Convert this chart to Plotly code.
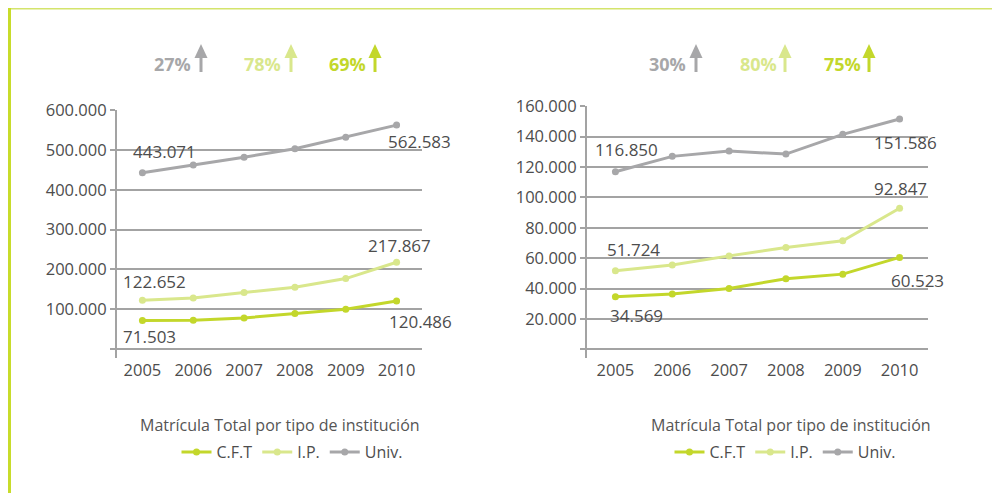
import plotly.graph_objects as go

# ---------------- data ----------------
years = ["2005", "2006", "2007", "2008", "2009", "2010"]
series_names = ["C.F.T", "I.P.", "Univ."]

left_cft = [71503, 72000, 78000, 89000, 100000, 120486]
left_ip = [122652, 128000, 142000, 155000, 177000, 217867]
left_univ = [443071, 462000, 482000, 503000, 532000, 562583]

right_cft = [34569, 36500, 40000, 46500, 49500, 60523]
right_ip = [51724, 55500, 61500, 67000, 71500, 92847]
right_univ = [116850, 127000, 130500, 128500, 141500, 151586]

left_growth = ["27%", "78%", "69%"]    # Univ., I.P., C.F.T
right_growth = ["30%", "80%", "75%"]   # Univ., I.P., C.F.T

left_yticks = [0, 100000, 200000, 300000, 400000, 500000, 600000]
right_yticks = [0, 20000, 40000, 60000, 80000, 100000, 120000, 140000, 160000]

chart_title = "Matrícula Total por tipo de institución"

# ---------------- style ----------------
W, H = 1000, 493
OFF = 8  # page body margin offset of the figure in the browser
C_CFT = "#C3D72B"
C_IP = "#D9E78C"
C_UNIV = "#A7A7A9"
colors = [C_CFT, C_IP, C_UNIV]
GRID = "#A3A3A3"
TXT = "#4D4D4D"
FONT = "Open Sans"


def px(x):
    return (x - OFF) / W


def py(y):
    return 1 - (y - OFF) / H


def fmt(v):
    return "" if v == 0 else f"{v:,}".replace(",", ".")


fig = go.Figure()

left_series = [left_cft, left_ip, left_univ]
right_series = [right_cft, right_ip, right_univ]

for name, vals, col in zip(series_names, left_series, colors):
    fig.add_trace(go.Scatter(
        x=years, y=vals, name=name, mode="lines+markers",
        line=dict(color=col, width=3), marker=dict(color=col, size=7),
        xaxis="x", yaxis="y", legend="legend", hoverinfo="skip"))

for name, vals, col in zip(series_names, right_series, colors):
    fig.add_trace(go.Scatter(
        x=years, y=vals, name=name, mode="lines+markers",
        line=dict(color=col, width=3), marker=dict(color=col, size=7),
        xaxis="x2", yaxis="y2", legend="legend2", hoverinfo="skip"))

yax_common = dict(
    showline=True, linecolor=GRID, linewidth=2,
    showgrid=True, gridcolor=GRID, gridwidth=1.5,
    ticks="outside", ticklen=5, tickcolor=GRID, tickwidth=1.5,
    zeroline=False, automargin=False,
    tickfont=dict(family=FONT, size=16.5, color=TXT),
)
xax_common = dict(
    type="category", showgrid=False, showline=False, zeroline=False,
    ticks="", range=[-0.5, 5.5], automargin=False,
    tickfont=dict(family=FONT, size=16.5, color=TXT),
)

fig.update_layout(
    width=W, height=H,
    margin=dict(l=0, r=0, t=0, b=0, pad=0, autoexpand=False),
    paper_bgcolor="white", plot_bgcolor="white",
    font=dict(family=FONT, color=TXT),
    xaxis=dict(xax_common, domain=[px(117), px(422)], anchor="y"),
    yaxis=dict(yax_common, domain=[py(358), py(110)], anchor="x",
               range=[-22600, 600500],
               tickvals=left_yticks, ticktext=[fmt(v) for v in left_yticks]),
    xaxis2=dict(xax_common, domain=[px(587), px(928)], anchor="y2"),
    yaxis2=dict(yax_common, domain=[py(358), py(106)], anchor="x2",
                range=[-5700, 160150],
                tickvals=right_yticks, ticktext=[fmt(v) for v in right_yticks]),
    legend=dict(orientation="h", x=px(292), xanchor="center", y=py(452),
                yanchor="middle", font=dict(family=FONT, size=16, color=TXT),
                bgcolor="rgba(0,0,0,0)"),
    legend2=dict(orientation="h", x=px(785), xanchor="center", y=py(452),
                 yanchor="middle", font=dict(family=FONT, size=16, color=TXT),
                 bgcolor="rgba(0,0,0,0)"),
    showlegend=True,
)

annotations = []


# value labels (first and last point); category axes use the index
def add_label(xref, yref, idx, vals, xs, ys):
    annotations.append(dict(
        x=idx, y=vals[idx], xref=xref, yref=yref,
        text=fmt(vals[idx]), showarrow=False, xshift=xs, yshift=ys,
        font=dict(family=FONT, size=17, color=TXT)))


add_label("x", "y", 0, left_univ, 22, 21)
add_label("x", "y", 0, left_ip, 12, 19)
add_label("x", "y", 0, left_cft, 7, -16)
add_label("x", "y", 5, left_univ, 23, -16)
add_label("x", "y", 5, left_ip, 3, 17)
add_label("x", "y", 5, left_cft, 24, -20)

add_label("x2", "y2", 0, right_univ, 11, 22)
add_label("x2", "y2", 0, right_ip, 18, 21)
add_label("x2", "y2", 0, right_cft, 21, -19)
add_label("x2", "y2", 5, right_univ, 6, -23)
add_label("x2", "y2", 5, right_ip, 1, 20)
add_label("x2", "y2", 5, right_cft, 18, -23)

# titles
for cx in (280, 791):
    annotations.append(dict(
        x=px(cx), y=py(425), xref="paper", yref="paper", text=chart_title,
        showarrow=False, xanchor="center", yanchor="middle",
        font=dict(family=FONT, size=16, color="#555555")))

# growth percentages with arrows
shapes = []
growth_colors = [C_UNIV, C_IP, C_CFT]


def arrow(cx, col):
    tip, base, bottom, hw = 44, 58, 72, 6.5
    shapes.append(dict(
        type="path", xref="paper", yref="paper",
        path=f"M {px(cx)} {py(tip)} L {px(cx + hw)} {py(base)} L {px(cx - hw)} {py(base)} Z",
        fillcolor=col, line=dict(width=0)))
    shapes.append(dict(
        type="line", xref="paper", yref="paper",
        x0=px(cx), x1=px(cx), y0=py(base - 1), y1=py(bottom),
        line=dict(color=col, width=3)))


for texts, tx, ax in [(left_growth, [172, 262, 347], [201, 291, 375]),
                      (right_growth, [667, 758, 842], [696, 785, 869])]:
    for t, x_t, x_a, col in zip(texts, tx, ax, growth_colors):
        annotations.append(dict(
            x=px(x_t), y=py(64), xref="paper", yref="paper", text=f"<b>{t}</b>",
            showarrow=False, xanchor="center", yanchor="middle",
            font=dict(family=FONT, size=18, color=col)))
        arrow(x_a, col)

# green frame (top and left edges)
shapes.append(dict(type="line", xref="paper", yref="paper",
                   x0=0, x1=1, y0=py(8), y1=py(8),
                   line=dict(color="#D4E46C", width=3)))
shapes.append(dict(type="line", xref="paper", yref="paper",
                   x0=px(9.5), x1=px(9.5), y0=py(7), y1=0,
                   line=dict(color="#C8DC2B", width=3)))

fig.update_layout(annotations=annotations, shapes=shapes)

fig.write_html("out.html")
